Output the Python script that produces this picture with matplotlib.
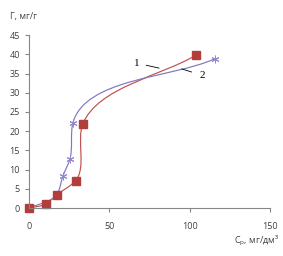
import matplotlib.pyplot as plt
import numpy as np
from matplotlib.path import Path
from matplotlib.patches import PathPatch

# series 1 (squares) and series 2 (stars)
x1 = [0, 10.3, 17.2, 29, 33.5, 104]
y1 = [0, 1.0, 3.4, 7.1, 21.9, 39.8]
x2 = [0, 17.2, 21.1, 25.5, 27.3, 115.5]
y2 = [0, 3.4, 8.3, 12.8, 22.1, 38.8]

xticks = [0, 50, 100, 150]
yticks = [0, 5, 10, 15, 20, 25, 30, 35, 40, 45]

plt.rcParams["font.family"] = ["Open Sans", "DejaVu Sans"]

# rough pixels per data unit, so the smoothing behaves like it does on screen
sx, sy = 241 / 150.0, 173 / 45.0


def smooth_path(xs, ys, k=0.3):
    # smoothed line: Bezier segments, Bessel tangents, handles k * segment length
    p = np.column_stack([np.array(xs) * sx, np.array(ys) * sy]).astype(float)
    n = len(p)
    seg = p[1:] - p[:-1]
    dl = np.hypot(seg[:, 0], seg[:, 1])
    u = seg / dl[:, None]
    tang = [u[0]]
    for i in range(1, n - 1):
        d1, d2 = dl[i - 1], dl[i]
        m = (d2 * u[i - 1] + d1 * u[i]) / (d1 + d2)
        tang.append(m / np.hypot(*m))
    tang.append(u[-1])
    verts = [p[0]]
    codes = [Path.MOVETO]
    for i in range(n - 1):
        verts += [p[i] + tang[i] * dl[i] * k, p[i + 1] - tang[i + 1] * dl[i] * k, p[i + 1]]
        codes += [Path.CURVE4] * 3
    verts = np.array(verts) / [sx, sy]
    return Path(verts, codes)


fig = plt.figure(figsize=(2.83, 2.56), dpi=100)
ax = fig.add_axes([0.1025, 0.1875, 0.8515, 0.6755])

red = "#B23E3C"
blue = "#8076C2"

ax.add_patch(PathPatch(smooth_path(x1, y1), fc="none", ec="#C0504D", lw=0.85))
ax.add_patch(PathPatch(smooth_path(x2, y2), fc="none", ec=blue, lw=0.85))
ax.plot(x2, y2, ls="none", marker=(6, 2, 0), ms=5.5, mec="#9487CC", mew=0.7, clip_on=False)
ax.plot(x1, y1, ls="none", marker="s", ms=5.5, mfc=red, mec=red, clip_on=False)

ax.set_xlim(0, 150)
ax.set_ylim(0, 45)
ax.set_xticks(xticks)
ax.set_yticks(yticks)
for s in ["top", "right"]:
    ax.spines[s].set_visible(False)
for s in ["left", "bottom"]:
    ax.spines[s].set_color("#868686")
    ax.spines[s].set_linewidth(0.8)
ax.tick_params(colors="#868686", labelcolor="#404040", labelsize=6.5, length=3, width=0.8)
ax.tick_params(axis="x", pad=7)

# curve labels
ax.annotate("1", xy=(81, 36.4), xytext=(67, 37.7), fontsize=8, family="Liberation Serif",
            ha="center", va="center",
            arrowprops=dict(arrowstyle="-", color="black", lw=0.6, shrinkA=3, shrinkB=0))
ax.annotate("2", xy=(95, 36.2), xytext=(108, 34.5), fontsize=8, family="Liberation Serif",
            ha="center", va="center",
            arrowprops=dict(arrowstyle="-", color="black", lw=0.6, shrinkA=4, shrinkB=0))

fig.text(0.035, 0.935, "Г, мг/г", fontsize=6.5, color="#404040", ha="left", va="center")
fig.text(0.985, 0.058, "C$_\\mathregular{р}$, мг/дм³", fontsize=6.5, color="#404040",
         ha="right", va="center")

fig.savefig("out.png", dpi=100)
